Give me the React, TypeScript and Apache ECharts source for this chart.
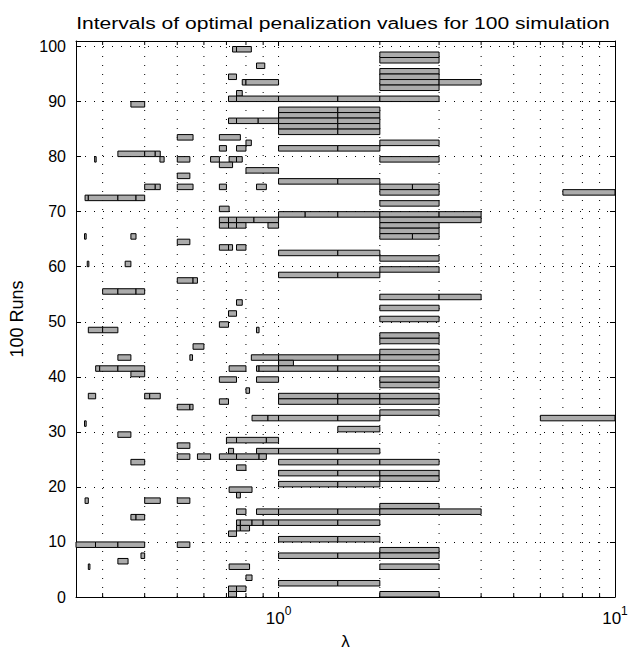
import React, { useEffect, useRef } from "react";
import * as echarts from "echarts";

const TITLE = "Intervals of optimal penalization values for 100 simulation";
const X_NAME = "λ";
const Y_NAME = "100 Runs";
const X_MIN = 0.25;
const X_MAX = 10;
const Y_MIN = 0;
const Y_MAX = 101;
const Y_STEP = 10;

// lambda positions of the dotted grid / minor ticks (log axis)
const gridLambda = [0.3, 0.4, 0.5, 0.6, 0.7, 0.8, 0.9, 1, 2, 3, 4, 5, 6, 7, 8, 9];
const majorLambda = [1, 10];

// [run, lambda start, lambda end] — intervals below 1
const segmentsBelowOne: [number, number, number][] = [
  [100, 0.73, 0.75], [100, 0.75, 0.83],
  [97, 0.86, 0.91],
  [95, 0.71, 0.75],
  [94, 0.78, 0.8], [94, 0.8, 1],
  [92, 0.75, 0.78],
  [91, 0.71, 0.75], [91, 0.75, 1],
  [90, 0.364, 0.4],
  [87, 0.71, 0.75], [87, 0.75, 0.87], [87, 0.87, 1],
  [84, 0.5, 0.557], [84, 0.667, 0.77],
  [83, 0.8, 0.83],
  [82, 0.667, 0.7], [82, 0.75, 0.8],
  [81, 0.333, 0.4], [81, 0.4, 0.43], [81, 0.43, 0.445],
  [80, 0.284, 0.287], [80, 0.444, 0.457], [80, 0.5, 0.545], [80, 0.628, 0.667], [80, 0.713, 0.75], [80, 0.75, 0.78],
  [79, 0.667, 0.73],
  [78, 0.8, 1],
  [77, 0.5, 0.545],
  [75, 0.4, 0.43], [75, 0.43, 0.445], [75, 0.5, 0.557], [75, 0.667, 0.7], [75, 0.86, 0.92],
  [73, 0.266, 0.272], [73, 0.272, 0.333], [73, 0.333, 0.377], [73, 0.377, 0.4],
  [71, 0.667, 0.713],
  [69, 0.667, 0.71], [69, 0.71, 0.75], [69, 0.75, 0.845], [69, 0.845, 1],
  [68, 0.667, 0.71], [68, 0.71, 0.75], [68, 0.75, 0.8], [68, 0.93, 1],
  [66, 0.265, 0.268], [66, 0.364, 0.377],
  [65, 0.5, 0.545],
  [64, 0.667, 0.71], [64, 0.71, 0.73], [64, 0.75, 0.8],
  [61, 0.27, 0.273], [61, 0.35, 0.364],
  [58, 0.5, 0.557], [58, 0.557, 0.574],
  [56, 0.3, 0.333], [56, 0.333, 0.377], [56, 0.377, 0.4],
  [54, 0.75, 0.78],
  [52, 0.71, 0.75],
  [50, 0.667, 0.71],
  [49, 0.272, 0.3], [49, 0.3, 0.333], [49, 0.86, 0.875],
  [46, 0.557, 0.6],
  [44, 0.333, 0.364], [44, 0.545, 0.555], [44, 0.83, 1],
  [42, 0.286, 0.294], [42, 0.294, 0.333], [42, 0.333, 0.4], [42, 0.713, 0.8], [42, 0.86, 0.875], [42, 0.875, 1],
  [41, 0.364, 0.4],
  [40, 0.667, 0.75], [40, 0.86, 1],
  [38, 0.8, 0.82],
  [37, 0.272, 0.286], [37, 0.4, 0.414], [37, 0.414, 0.445],
  [36, 0.667, 0.71],
  [35, 0.5, 0.545], [35, 0.545, 0.557],
  [33, 0.834, 0.93], [33, 0.93, 1],
  [32, 0.265, 0.268],
  [30, 0.333, 0.364],
  [29, 0.7, 0.75], [29, 0.75, 0.92], [29, 0.92, 1],
  [28, 0.5, 0.545],
  [27, 0.71, 0.735], [27, 0.86, 1],
  [26, 0.5, 0.545], [26, 0.574, 0.628], [26, 0.667, 0.75], [26, 0.75, 0.875], [26, 0.875, 0.92],
  [25, 0.364, 0.4],
  [24, 0.75, 0.8],
  [20, 0.713, 0.834],
  [19, 0.75, 0.77],
  [18, 0.266, 0.272], [18, 0.4, 0.445], [18, 0.5, 0.545],
  [16, 0.75, 0.8], [16, 0.86, 1],
  [15, 0.364, 0.377], [15, 0.377, 0.4],
  [14, 0.75, 0.77], [14, 0.77, 0.834], [14, 0.834, 0.9], [14, 0.9, 1],
  [13, 0.75, 0.77], [13, 0.77, 0.82],
  [12, 0.71, 0.75],
  [10, 0.25, 0.2857], [10, 0.2857, 0.333], [10, 0.333, 0.4], [10, 0.5, 0.545],
  [8, 0.39, 0.4],
  [7, 0.333, 0.357],
  [6, 0.272, 0.275], [6, 0.713, 0.82],
  [4, 0.8, 0.834],
  [2, 0.71, 0.75], [2, 0.75, 0.8],
  [1, 0.71, 0.75],
];

// intervals between 1 and 2
const segmentsOneToTwo: [number, number, number][] = [
  [91, 1, 1.5], [91, 1.5, 2],
  [89, 1, 1.5], [89, 1.5, 2],
  [88, 1, 1.5], [88, 1.5, 2],
  [87, 1, 1.5], [87, 1.5, 2],
  [86, 1, 1.5], [86, 1.5, 2],
  [85, 1, 1.5], [85, 1.5, 2],
  [82, 1, 1.5], [82, 1.5, 2],
  [76, 1, 1.5], [76, 1.5, 2],
  [70, 1, 1.2], [70, 1.2, 1.5], [70, 1.5, 2],
  [63, 1, 1.5], [63, 1.5, 2],
  [59, 1, 1.5], [59, 1.5, 2],
  [44, 1, 1.5], [44, 1.5, 2],
  [43, 1, 1.107],
  [42, 1, 1.5], [42, 1.5, 2],
  [37, 1, 1.5], [37, 1.5, 2],
  [36, 1, 1.5], [36, 1.5, 2],
  [33, 1, 1.5], [33, 1.5, 2],
  [31, 1.5, 2],
  [27, 1, 1.5], [27, 1.5, 2],
  [25, 1, 1.5], [25, 1.5, 2],
  [23, 1, 1.5], [23, 1.5, 2],
  [21, 1, 1.5], [21, 1.5, 2],
  [16, 1, 1.5], [16, 1.5, 2],
  [14, 1, 1.5], [14, 1.5, 2],
  [11, 1, 1.5], [11, 1.5, 2],
  [8, 1, 1.5], [8, 1.5, 2],
  [3, 1, 1.5], [3, 1.5, 2],
];

// intervals above 2
const segmentsAboveTwo: [number, number, number][] = [
  [99, 2, 3], [98, 2, 3], [96, 2, 3], [95, 2, 3],
  [94, 2, 3], [94, 3, 4],
  [93, 2, 3], [91, 2, 3],
  [83, 2, 3], [80, 2, 3],
  [75, 2, 2.5], [75, 2.5, 3],
  [74, 2, 3], [74, 7, 10],
  [72, 2, 3],
  [70, 2, 3], [70, 3, 4],
  [69, 2, 4],
  [68, 2, 3], [67, 2, 3],
  [66, 2, 2.5], [66, 2.5, 3],
  [62, 2, 3], [60, 2, 3],
  [55, 2, 3], [55, 3, 4],
  [53, 2, 3], [51, 2, 3], [48, 2, 3], [47, 2, 3], [45, 2, 3], [44, 2, 3],
  [42, 2, 3], [40, 2, 3], [39, 2, 3], [37, 2, 3], [36, 2, 3], [34, 2, 3],
  [33, 6, 10],
  [25, 2, 3], [23, 2, 3], [22, 2, 3], [17, 2, 3],
  [16, 2, 4],
  [9, 2, 3], [8, 2, 3], [6, 2, 3], [1, 2, 3],
];

const FONT = "Liberation Sans, Arial, Helvetica, sans-serif";

export default function App() {
  const ref = useRef<HTMLDivElement>(null);

  useEffect(() => {
    if (!ref.current) return;
    const chart = echarts.init(ref.current, undefined, { renderer: "svg" });

    const allSegments = [...segmentsBelowOne, ...segmentsOneToTwo, ...segmentsAboveTwo].map(
      ([run, a, b]) => [a, b, run]
    );

    const isPow10 = (v: number) => majorLambda.some((m) => Math.abs(Math.log10(v) - Math.log10(m)) < 1e-6);

    const xCommon = {
      type: "log" as const,
      logBase: 10,
      min: X_MIN,
      max: X_MAX,
      axisLine: { show: true, onZero: false, lineStyle: { color: "#000", width: 1 } },
      axisTick: { show: true, inside: true, length: 5, lineStyle: { color: "#000" } },
      splitLine: { show: false },
    };

    const option: any = {
      animation: false,
      backgroundColor: "#fff",
      graphic: [
        {
          type: "text",
          x: 343,
          y: 23,
          scaleX: 1.24,
          silent: true,
          style: {
            text: TITLE,
            fontFamily: FONT,
            fontSize: 17,
            fill: "#000",
            textAlign: "center",
            textVerticalAlign: "middle",
          },
        },
      ],
      grid: { left: 73, right: 16, top: 41, bottom: 44, containLabel: false, show: false },
      xAxis: [
        {
          ...xCommon,
          position: "bottom",
          name: X_NAME,
          nameLocation: "middle",
          nameGap: 36,
          nameTextStyle: { fontFamily: FONT, fontSize: 17, color: "#000" },
          axisLabel: {
            show: true,
            margin: 8,
            formatter: (v: number) => {
              if (!isPow10(v)) return "";
              const e = Math.round(Math.log10(v));
              return `{b|10}{s|${e}}`;
            },
            rich: {
              b: { fontFamily: FONT, fontSize: 17, color: "#000", verticalAlign: "bottom", lineHeight: 22 },
              s: { fontFamily: FONT, fontSize: 12, color: "#000", verticalAlign: "top", lineHeight: 22 },
            },
          },
        },
        {
          ...xCommon,
          position: "top",
          axisLabel: { show: false },
        },
      ],
      yAxis: [
        {
          type: "value",
          min: Y_MIN,
          max: Y_MAX,
          interval: Y_STEP,
          position: "left",
          name: Y_NAME,
          nameLocation: "middle",
          nameGap: 50,
          nameTextStyle: { fontFamily: FONT, fontSize: 18, color: "#000" },
          axisLine: { show: true, onZero: false, lineStyle: { color: "#000", width: 1 } },
          axisTick: { show: true, inside: true, length: 5, lineStyle: { color: "#000" } },
          axisLabel: {
            show: true,
            showMaxLabel: false,
            margin: 10,
            fontFamily: FONT,
            fontSize: 16,
            color: "#000",
            formatter: (v: number) => (v > 100 ? "" : String(v)),
          },
          splitLine: { show: true, lineStyle: { color: "#000", type: [1, 8], width: 1 } },
        },
        {
          type: "value",
          min: Y_MIN,
          max: Y_MAX,
          interval: Y_STEP,
          position: "right",
          axisLine: { show: true, onZero: false, lineStyle: { color: "#000", width: 1 } },
          axisTick: { show: true, inside: true, length: 5, lineStyle: { color: "#000" } },
          axisLabel: { show: false },
          splitLine: { show: false },
        },
      ],
      series: [
        {
          type: "custom",
          name: "grid",
          silent: true,
          xAxisIndex: 0,
          yAxisIndex: 0,
          data: gridLambda.map((v) => [v, Y_MIN]),
          encode: { x: 0, y: 1 },
          renderItem: (params: any, api: any) => {
            const v = api.value(0);
            const bottom = api.coord([v, Y_MIN]);
            const top = api.coord([v, Y_MAX]);
            const tickLen = isPow10(v) ? 5 : 4;
            return {
              type: "group",
              children: [
                {
                  type: "line",
                  shape: { x1: bottom[0], y1: bottom[1], x2: top[0], y2: top[1] },
                  style: { stroke: "#000", lineWidth: 1, lineDash: [1, 8] },
                },
                {
                  type: "line",
                  shape: { x1: bottom[0], y1: bottom[1], x2: bottom[0], y2: bottom[1] - tickLen },
                  style: { stroke: "#000", lineWidth: 1 },
                },
                {
                  type: "line",
                  shape: { x1: top[0], y1: top[1], x2: top[0], y2: top[1] + tickLen },
                  style: { stroke: "#000", lineWidth: 1 },
                },
              ],
            };
          },
          z: 1,
        },
        {
          type: "custom",
          name: "intervals",
          silent: true,
          xAxisIndex: 0,
          yAxisIndex: 0,
          data: allSegments,
          encode: { x: [0, 1], y: 2 },
          clip: true,
          renderItem: (params: any, api: any) => {
            const a = api.value(0);
            const b = api.value(1);
            const run = api.value(2);
            const p1 = api.coord([a, run]);
            const p2 = api.coord([b, run - 1]);
            return {
              type: "rect",
              shape: { x: p1[0], y: p1[1], width: p2[0] - p1[0], height: p2[1] - p1[1] },
              style: { fill: "#ababab", stroke: "#000", lineWidth: 1 },
            };
          },
          z: 2,
        },
      ],
    };

    chart.setOption(option);
    return () => chart.dispose();
  }, []);

  return (
    <div
      ref={ref}
      style={{ position: "fixed", left: 0, top: 0, width: 631, height: 655, background: "#fff" }}
    />
  );
}
